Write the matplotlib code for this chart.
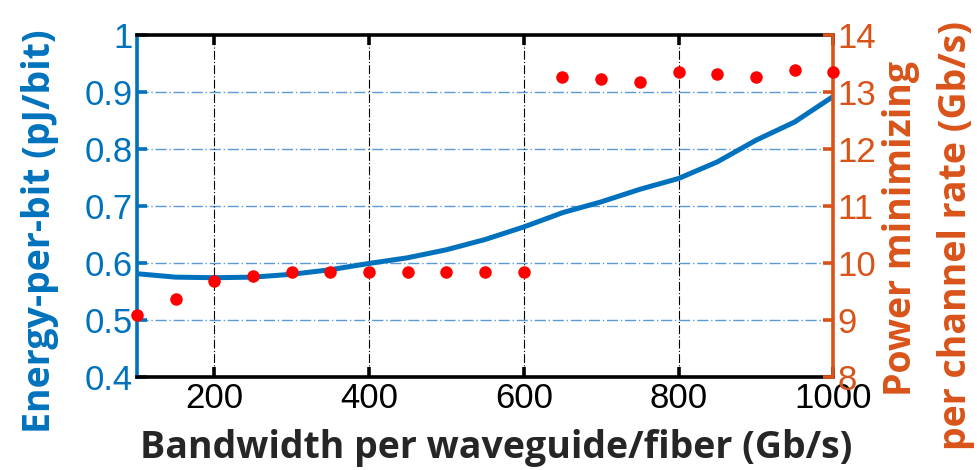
import matplotlib
matplotlib.use("Agg")
import matplotlib.pyplot as plt

bandwidth = [100, 150, 200, 250, 300, 350, 400, 450, 500, 550, 600, 650, 700, 750, 800, 850, 900, 950, 1000]
energy_per_bit = [0.581, 0.575, 0.574, 0.575, 0.580, 0.588, 0.599, 0.609, 0.623, 0.641, 0.663,
                  0.688, 0.707, 0.729, 0.748, 0.777, 0.815, 0.847, 0.892]
channel_rate = [9.08, 9.37, 9.68, 9.77, 9.84, 9.84, 9.84, 9.84, 9.84, 9.84, 9.84,
                13.26, 13.22, 13.18, 13.34, 13.31, 13.26, 13.38, 13.34]
x_ticks = [200, 400, 600, 800, 1000]
left_ticks = [0.4, 0.5, 0.6, 0.7, 0.8, 0.9, 1]
right_ticks = [8, 9, 10, 11, 12, 13, 14]

BLUE = "#0072BD"
ORANGE = "#D95319"
tick_font = "Liberation Sans"
label_font = "Open Sans"

W, H = 978, 470
fig = plt.figure(figsize=(W / 100, H / 100), dpi=100)
ax = fig.add_axes([0.140, 0.198, 0.712, 0.728])
ax2 = ax.twinx()

ax.plot(bandwidth, energy_per_bit, color=BLUE, lw=3.6, zorder=3, solid_capstyle="butt")
ax2.plot(bandwidth, channel_rate, "o", color="#FF0000", ms=9, mec="none", clip_on=False, zorder=4)

ax.set_xlim(100, 1000)
ax.set_ylim(0.4, 1.0)
ax2.set_ylim(8, 14)
ax.set_xticks(x_ticks)
ax.set_yticks(left_ticks)
ax.set_yticklabels(["0.4", "0.5", "0.6", "0.7", "0.8", "0.9", "1"])
ax2.set_yticks(right_ticks)

# grids
for yv in left_ticks[1:-1]:
    ax.axhline(yv, color="#5B9BD5", lw=1.0, ls=(0, (8, 2, 1, 2)), zorder=1)
for xv in x_ticks[:-1]:
    ax.axvline(xv, color="black", lw=0.8, ls=(0, (8, 2, 1, 2)), zorder=1)

# spines
ax.spines["top"].set_color("black")
ax.spines["top"].set_linewidth(2.6)
ax.spines["bottom"].set_color("black")
ax.spines["bottom"].set_linewidth(2.6)
ax.spines["left"].set_color(BLUE)
ax.spines["left"].set_linewidth(2.6)
ax.spines["right"].set_visible(False)
ax2.spines["top"].set_visible(False)
ax2.spines["bottom"].set_visible(False)
ax2.spines["left"].set_visible(False)
ax2.spines["right"].set_color(ORANGE)
ax2.spines["right"].set_linewidth(2.6)

ax.tick_params(axis="x", direction="in", top=True, length=7, width=2.6, colors="black",
               labelsize=25, pad=4)
ax.tick_params(axis="y", direction="in", length=7, width=2.6, colors=BLUE, labelsize=25, pad=3)
ax2.tick_params(axis="y", direction="in", length=7, width=2.6, colors=ORANGE, labelsize=25, pad=3)
for lab in ax.get_xticklabels() + ax.get_yticklabels() + ax2.get_yticklabels():
    lab.set_fontfamily(tick_font)

lab_kw = dict(fontsize=27, fontweight="bold", fontfamily=label_font)
fig.text(496 / W, 1 - 458 / H, "Bandwidth per waveguide/fiber (Gb/s)", color="#262626",
         ha="center", va="baseline", **lab_kw)
fig.text(40 / W, 1 - 231 / H, "Energy-per-bit (pJ/bit)", color=BLUE, rotation=90,
         ha="center", va="center", **lab_kw)
fig.text(901 / W, 1 - 228 / H, "Power minimizing", color=ORANGE, rotation=90,
         ha="center", va="center", **lab_kw)
fig.text(956 / W, 1 - 235 / H, "per channel rate (Gb/s)", color=ORANGE, rotation=90,
         ha="center", va="center", **lab_kw)

fig.savefig("out.png", dpi=100)
